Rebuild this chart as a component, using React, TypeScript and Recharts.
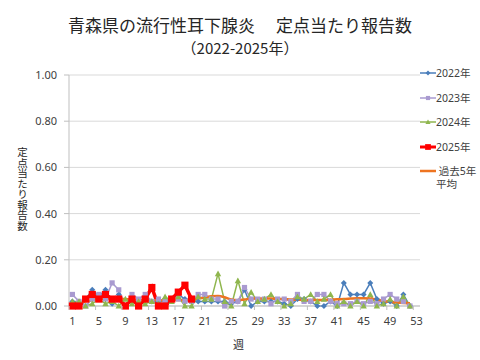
import React from "react";
import { LineChart, Line, XAxis, YAxis, CartesianGrid } from "recharts";

// 週 1..53
const weeks = Array.from({ length: 53 }, (_, i) => i + 1);

const y2022 = [
  0.02, 0.01, 0.03, 0.07, 0.04, 0.07, 0.01, 0.05, 0.0, 0.03,
  0.01, 0.04, 0.02, 0.02, 0.02, 0.03, 0.05, 0.03, 0.02, 0.02,
  0.02, 0.02, 0.02, 0.02, 0.01, 0.02, 0.07, 0.0, 0.02, 0.02,
  0.02, 0.02, 0.01, 0.0, 0.03, 0.03, 0.02, 0.0, 0.0, 0.02,
  0.0, 0.1, 0.05, 0.05, 0.05, 0.1, 0.03, 0.01, 0.02, 0.0,
  0.05, 0.0, null,
];

const y2023 = [
  0.05, 0.02, 0.0, 0.03, 0.05, 0.03, 0.1, 0.07, 0.0, 0.05,
  0.03, 0.05, 0.02, 0.03, 0.02, 0.03, 0.03, 0.02, 0.02, 0.05,
  0.05, 0.03, 0.03, 0.0, 0.02, 0.02, 0.08, 0.03, 0.03, 0.03,
  0.01, 0.03, 0.03, 0.02, 0.05, 0.02, 0.02, 0.05, 0.05, 0.02,
  0.01, 0.01, 0.01, 0.02, 0.01, 0.02, 0.01, 0.03, 0.05, 0.03,
  0.02, 0.0, null,
];

const y2024 = [
  0.02, 0.02, 0.0, 0.01, 0.03, 0.01, 0.02, 0.0, 0.03, 0.01,
  0.02, 0.01, 0.02, 0.01, 0.04, 0.02, 0.04, 0.0, 0.0, 0.04,
  0.03, 0.03, 0.14, 0.02, 0.0, 0.11, 0.01, 0.06, 0.02, 0.03,
  0.05, 0.02, 0.0, 0.01, 0.04, 0.03, 0.05, 0.02, 0.03, 0.05,
  0.0, 0.02, 0.0, 0.02, 0.0, 0.05, 0.0, 0.01, 0.03, 0.0,
  0.04, 0.0, null,
];

const y2025 = [
  0.0, 0.0, 0.03, 0.05, 0.03, 0.05, 0.03, 0.03, 0.0, 0.03,
  0.0, 0.03, 0.08, 0.0, 0.0, 0.03, 0.06, 0.09, 0.03,
];

const avg5 = [
  0.01, 0.015, 0.02, 0.025, 0.03, 0.032, 0.033, 0.032, 0.03, 0.028,
  0.027, 0.026, 0.025, 0.024, 0.024, 0.025, 0.026, 0.027, 0.028, 0.032,
  0.037, 0.042, 0.043, 0.038, 0.028, 0.025, 0.028, 0.032, 0.033, 0.033,
  0.032, 0.031, 0.03, 0.028, 0.027, 0.026, 0.026, 0.026, 0.026, 0.027,
  0.029, 0.03, 0.032, 0.034, 0.034, 0.032, 0.028, 0.022, 0.018, 0.015,
  0.013, 0.012, null,
];

const yTicks = [0, 0.2, 0.4, 0.6, 0.8, 1.0];

const data = weeks.map((w, i) => ({
  week: w,
  y2022: y2022[i] ?? null,
  y2023: y2023[i] ?? null,
  y2024: y2024[i] ?? null,
  y2025: y2025[i] ?? null,
  avg5: avg5[i] ?? null,
}));

type Shape = "diamond" | "square" | "triangle" | "none";

const series: {
  key: string;
  name: string[];
  color: string;
  width: number;
  shape: Shape;
  size: number;
  smooth?: boolean;
}[] = [
  { key: "y2022", name: ["2022年"], color: "#4a7ebb", width: 1.5, shape: "diamond", size: 3, },
  { key: "y2023", name: ["2023年"], color: "#a99ad0", width: 1.5, shape: "square", size: 2.6 },
  { key: "y2024", name: ["2024年"], color: "#8fb64e", width: 1.5, shape: "triangle", size: 3.2 },
  { key: "y2025", name: ["2025年"], color: "#ff0000", width: 3.5, shape: "square", size: 3.6 },
  { key: "avg5", name: [" 過去5年", "平均"], color: "#ee7420", width: 2.5, shape: "none", size: 0, smooth: true },
];

function markerPath(shape: Shape, cx: number, cy: number, s: number) {
  if (shape === "diamond") return `M${cx},${cy - s}L${cx + s},${cy}L${cx},${cy + s}L${cx - s},${cy}Z`;
  if (shape === "square") return `M${cx - s},${cy - s}h${2 * s}v${2 * s}h${-2 * s}Z`;
  if (shape === "triangle") return `M${cx},${cy - s}L${cx + s},${cy + s * 0.8}L${cx - s},${cy + s * 0.8}Z`;
  return "";
}

const makeDot = (shape: Shape, color: string, size: number) => (props: any) => {
  const { cx, cy, index, value } = props;
  const k = `dot-${index}`;
  if (cx == null || cy == null || value == null) return <g key={k} />;
  return <path key={k} d={markerPath(shape, cx, cy, size)} fill={color} stroke="none" />;
};

const XTick = (props: any) => {
  const { x, y, payload } = props;
  return (
    <g>
      <line x1={x - 3.3} x2={x - 3.3} y1={y - 8} y2={y - 4} stroke="#bfbfbf" />
      <text x={x} y={y + 11} textAnchor="middle" fontSize={11} fill="#404040">
        {payload.value}
      </text>
    </g>
  );
};

const font = "'Noto Sans', 'Noto Sans CJK JP', sans-serif";

export default function App() {
  return (
    <div
      style={{
        position: "absolute",
        left: 0,
        top: 0,
        width: 480,
        height: 360,
        background: "#fff",
        fontFamily: font,
        color: "#262626",
      }}
    >
      <div
        style={{
          position: "absolute",
          left: 0,
          width: 480,
          top: 14,
          textAlign: "center",
          fontFamily: "'Noto Sans CJK JP', sans-serif",
          fontSize: 17,
          lineHeight: "22px",
          whiteSpace: "pre",
        }}
      >
        {"青森県の流行性耳下腺炎　 定点当たり報告数"}
      </div>
      <div
        style={{
          position: "absolute",
          left: 0,
          width: 480,
          top: 37,
          textAlign: "center",
          fontFamily: "'Noto Sans CJK JP', sans-serif",
          fontSize: 15,
          lineHeight: "22px",
        }}
      >
        （2022-2025年）
      </div>

      <LineChart
        width={480}
        height={360}
        data={data}
        margin={{ top: 75, right: 60, left: 0, bottom: 24 }}
        style={{ position: "absolute", left: 0, top: 0 }}
      >
        <CartesianGrid vertical={false} stroke="#d9d9d9" />
        <XAxis
          dataKey="week"
          interval={3}
          padding={{ left: 3.4, right: 3.4 }}
          height={30}
          tickLine={false}
          tick={<XTick />}
          axisLine={{ stroke: "#bfbfbf" }}
        />
        <YAxis
          width={69}
          domain={[0, 1]}
          ticks={yTicks}
          tickFormatter={(v: number) => v.toFixed(2)}
          tickSize={5}
          tickMargin={7}
          tickLine={{ stroke: "#bfbfbf" }}
          axisLine={{ stroke: "#bfbfbf" }}
          tick={{ fontSize: 11, fill: "#404040" }}
        />
        {series.map((s) => (
          <Line
            key={s.key}
            dataKey={s.key}
            type={s.smooth ? "monotone" : "linear"}
            stroke={s.color}
            strokeWidth={s.width}
            dot={s.shape === "none" ? false : makeDot(s.shape, s.color, s.size)}
            activeDot={false}
            connectNulls={false}
            isAnimationActive={false}
          />
        ))}
      </LineChart>

      <div
        style={{
          position: "absolute",
          left: 15,
          top: 147,
          writingMode: "vertical-rl",
          fontFamily: "'Noto Sans CJK JP', sans-serif",
          fontSize: 10.5,
          lineHeight: "14px",
        }}
      >
        定点当たり報告数
      </div>
      <div
        style={{
          position: "absolute",
          left: 233,
          top: 337,
          fontFamily: "'Noto Sans CJK JP', sans-serif",
          fontSize: 11,
          lineHeight: "14px",
        }}
      >
        週
      </div>

      <div style={{ position: "absolute", left: 420, top: 66 }}>
        {series.map((s) => (
          <div key={s.key} style={{ display: "flex", alignItems: "flex-start", height: 24.5, fontSize: 10.5 }}>
            <svg width={16} height={14} style={{ flex: "none" }}>
              <line x1={0} x2={16} y1={7} y2={7} stroke={s.color} strokeWidth={Math.min(s.width, 3)} />
              {s.shape !== "none" && (
                <path d={markerPath(s.shape, 8, 7, s.size * 0.8)} fill={s.color} />
              )}
            </svg>
            <div style={{ lineHeight: "13px", marginTop: 1, whiteSpace: "pre", color: "#404040" }}>
              {s.name.join("\n")}
            </div>
          </div>
        ))}
      </div>
    </div>
  );
}
